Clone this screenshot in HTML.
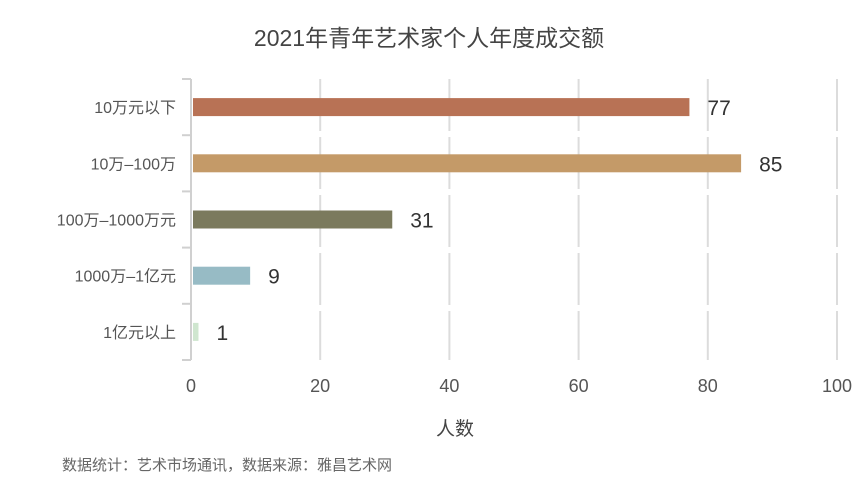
<!DOCTYPE html>
<html><head><meta charset="utf-8">
<style>
body{margin:0;background:#fff;font-family:"Liberation Sans","Noto Sans CJK SC",sans-serif;}
svg text{font-family:"Liberation Sans","Noto Sans CJK SC",sans-serif;}
</style></head>
<body>
<svg width="858" height="484" viewBox="0 0 858 484" xmlns="http://www.w3.org/2000/svg">
<rect width="858" height="484" fill="#fff"/>
<text x="429" y="46" text-anchor="middle" font-size="23" fill="#444">2021年青年艺术家个人年度成交额</text>
<g id="grid"></g>
<g id="bars"></g>
<g id="axes"></g>
<text x="455" y="435" text-anchor="middle" font-size="19" fill="#444">人数</text>
<text x="62" y="470" font-size="15" fill="#666">数据统计：艺术市场通讯，数据来源：雅昌艺术网</text>
</svg>
<script>
const categories=["10万元以下","10万–100万","100万–1000万元","1000万–1亿元","1亿元以上"];
const values=[77,85,31,9,1];
const colors=["#b87255","#c49a68","#7b7a5d","#97bbc5","#cfe6cf"];
const ticks=[0,20,40,60,80,100];
const NS="http://www.w3.org/2000/svg";
const x0=191,x1=837,yTop=79,yBot=360;
const xs=v=>x0+(v/100)*(x1-x0);
const band=(yBot-yTop)/categories.length;
const yc=i=>yTop+band*(i+0.5);
function mk(tag,attrs,parent){const e=document.createElementNS(NS,tag);for(const k in attrs)e.setAttribute(k,attrs[k]);parent.appendChild(e);return e;}
const grid=document.getElementById('grid'),bars=document.getElementById('bars'),axes=document.getElementById('axes');
ticks.forEach(t=>{
  if(t>0){const l=mk('line',{x1:xs(t),x2:xs(t),y1:yTop,y2:yBot,stroke:'#dcdcdc','stroke-width':2,'stroke-dasharray':'52 6'},grid);
  
  }
  const tx=mk('text',{x:xs(t),y:392,'text-anchor':'middle','font-size':18,fill:'#555'},axes);
  tx.textContent=t;
  
  
});
const ax=mk('line',{x1:x0,x2:x0,y1:yTop,y2:yBot,stroke:'#d0d0d0','stroke-width':2},axes);


for(let i=0;i<=categories.length;i++){
  const y=yTop+band*i;
  const tk=mk('line',{x1:182,x2:x0,y1:y,y2:y,stroke:'#d0d0d0','stroke-width':2},axes);
  
  
}
categories.forEach((c,i)=>{
  const y=yc(i);
  const lb=mk('text',{x:176,y:y+6,'text-anchor':'end','font-size':16,fill:'#555'},axes);
  lb.textContent=c;
  
  
  const w=Math.max(xs(values[i])-xs(0)-1,2);
  const r=mk('rect',{x:x0+2,y:y-9,width:w,height:18,fill:colors[i]},bars);
  
  
  const v=mk('text',{x:x0+2+w+18,y:y+8,'font-size':21,fill:'#333'},bars);
  v.textContent=values[i];
  
  
});
</script>
</body></html>
